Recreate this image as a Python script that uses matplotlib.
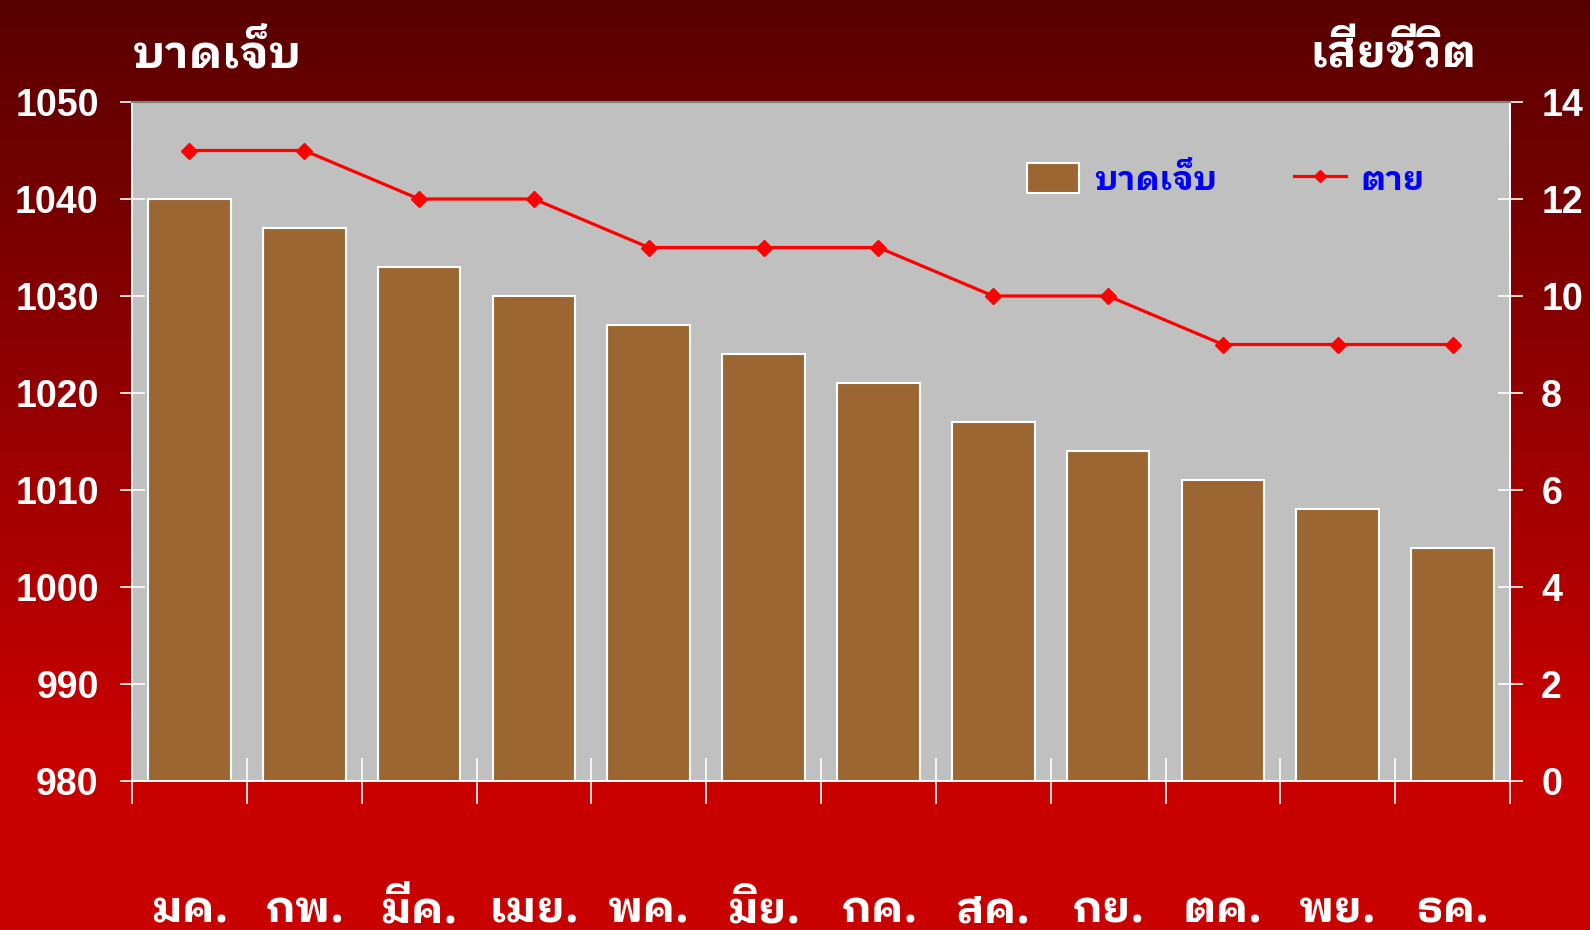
"""
Bar + line chart: injured (bars, left axis) and deaths (line, right axis) by month.
Saves out.png
"""
import matplotlib
matplotlib.use("Agg")
import matplotlib.pyplot as plt
import numpy as np
from matplotlib.lines import Line2D
from matplotlib.patches import Patch

# ── data ────────────────────────────────────────────────────────────────
MONTHS = ["มค.", "กพ.", "มีค.", "เมย.", "พค.", "มิย.",
          "กค.", "สค.", "กย.", "ตค.", "พย.", "ธค."]
INJURED = [1040, 1037, 1033, 1030, 1027, 1024, 1021, 1017, 1014, 1011, 1008, 1004]
DEATHS = [13, 13, 12, 12, 11, 11, 11, 10, 10, 9, 9, 9]

LEFT_TICKS = [980, 990, 1000, 1010, 1020, 1030, 1040, 1050]
RIGHT_TICKS = [0, 2, 4, 6, 8, 10, 12, 14]

TITLE_LEFT = "บาดเจ็บ"
TITLE_RIGHT = "เสียชีวิต"
LEG_BAR = "บาดเจ็บ"
LEG_LINE = "ตาย"

THAI = "IBM Plex Sans Thai Looped"
NUM = "Liberation Sans"
BROWN = "#9C6633"
PLOT_BG = "#C0C0C0"
WHITE = "white"

W, H = 1590, 930
fig = plt.figure(figsize=(W / 100, H / 100), dpi=100)

# ── gradient background ─────────────────────────────────────────────────
bg = fig.add_axes([0, 0, 1, 1], zorder=-10)
yy = np.linspace(0, 1, 400)[:, None]          # 0 = top
t = np.clip(yy / 0.8, 0, 1)
top = np.array([88, 0, 0]) / 255
bot = np.array([200, 0, 0]) / 255
grad = top[None, None, :] * (1 - t[..., None]) + bot[None, None, :] * t[..., None]
grad = np.repeat(grad, 2, axis=1)
bg.imshow(grad, aspect="auto", extent=[0, 1, 0, 1], origin="upper")
bg.axis("off")

# ── axes ────────────────────────────────────────────────────────────────
L, R, T, B = 132, 1510, 102, 781
ax = fig.add_axes([L / W, 1 - B / H, (R - L) / W, (B - T) / H])
ax.set_facecolor(PLOT_BG)

x = np.arange(len(MONTHS))
ax.bar(x, INJURED, width=0.72, color=BROWN, edgecolor=WHITE, linewidth=1.5, zorder=2)
ax.set_xlim(-0.5, len(MONTHS) - 0.5)
ax.set_ylim(980, 1050)
ax.set_yticks(LEFT_TICKS)

ax2 = ax.twinx()
ax2.plot(x, DEATHS, color="#FF0000", lw=2.3, marker="D", ms=8,
         mfc="#FF0000", mec="#FF0000", zorder=3)
ax2.set_ylim(0, 14)
ax2.set_yticks(RIGHT_TICKS)

for a in (ax, ax2):
    for s in ("left", "right", "bottom"):
        a.spines[s].set_color(WHITE)
        a.spines[s].set_linewidth(1.2)
    a.spines["top"].set_color("#808080")
    a.spines["top"].set_linewidth(1.5)

ax.tick_params(axis="y", direction="inout", length=18, width=1.2, color=WHITE,
               pad=15, labelcolor=WHITE)
ax2.tick_params(axis="y", direction="inout", length=18, width=1.2, color=WHITE,
                pad=13.5, labelcolor=WHITE)
for lab in ax.get_yticklabels() + ax2.get_yticklabels():
    lab.set_fontfamily(NUM)
    lab.set_fontweight("bold")
    lab.set_fontsize(27)

# x: boundary ticks crossing the axis, labels far below
ax.set_xticks(np.arange(-0.5, len(MONTHS), 1.0))
ax.set_xticklabels([])
ax.tick_params(axis="x", direction="inout", length=33, width=1.2, color=WHITE)
ax2.tick_params(axis="x", length=0)
for xi, m in zip(x, MONTHS):
    ax.text(xi, -(922 - B) / (B - T), m, transform=ax.get_xaxis_transform(),
            ha="center", va="baseline", fontsize=32, fontweight="bold",
            family=[THAI, NUM], color=WHITE)

# ── titles ──────────────────────────────────────────────────────────────
fig.text(133 / W, 1 - 67 / H, TITLE_LEFT, ha="left", va="baseline",
         fontsize=33, fontweight="bold", family=[THAI, NUM], color=WHITE)
fig.text(1477 / W, 1 - 67 / H, TITLE_RIGHT, ha="right", va="baseline",
         fontsize=33, fontweight="bold", family=[THAI, NUM], color=WHITE)

# ── legend ──────────────────────────────────────────────────────────────
handles = [
    Patch(facecolor=BROWN, edgecolor=WHITE, linewidth=1.5),
    Line2D([], [], color="#FF0000", lw=2.3, marker="D", ms=6,
           mfc="#FF0000", mec="#FF0000"),
]
leg = ax2.legend(handles, [LEG_BAR, LEG_LINE], ncol=2, frameon=False,
                 loc="center", bbox_to_anchor=(1226 / W, 1 - 180 / H),
                 bbox_transform=fig.transFigure,
                 prop={"family": [THAI, NUM], "weight": "bold", "size": 24},
                 handlelength=1.56, handleheight=1.0, handletextpad=0.45,
                 columnspacing=2.3, borderpad=0, borderaxespad=0)
for txt in leg.get_texts():
    txt.set_color("#0000FF")

fig.savefig("out.png", dpi=100, facecolor=fig.get_facecolor())
